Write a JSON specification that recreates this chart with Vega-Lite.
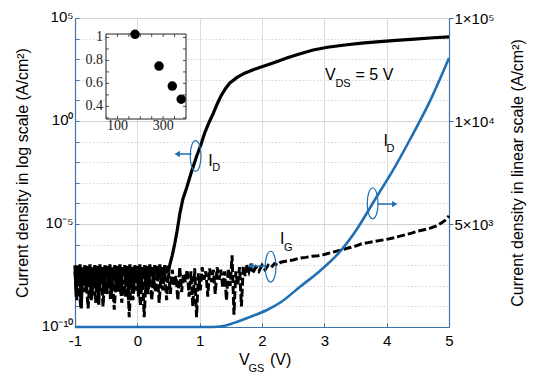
{
  "$schema": "https://vega.github.io/schema/vega-lite/v6.json",
  "width": 374,
  "height": 309,
  "autosize": "none",
  "padding": {"left": 75, "top": 18, "right": 93, "bottom": 57},
  "background": "white",
  "config": {
    "font": "Liberation Sans",
    "view": {"stroke": "#8fb0cc", "strokeWidth": 1},
    "axis": {"labelFont": "Liberation Sans", "titleFont": "Liberation Sans", "labelFontSize": 15, "titleFontSize": 16, "titleFontWeight": "normal", "labelColor": "black", "titleColor": "black", "domainColor": "#3a74a8", "tickColor": "#3a74a8", "domainWidth": 1.2}
  },
  "datasets": {
    "id": [{"v":-1,"j":1e-7},{"v":-0.98,"j":3e-9},{"v":-0.96,"j":9e-8},{"v":-0.94,"j":1.5e-8},{"v":-0.92,"j":1.1e-7},{"v":-0.9,"j":8e-10},{"v":-0.88,"j":8e-8},{"v":-0.86,"j":2e-8},{"v":-0.84,"j":1e-7},{"v":-0.82,"j":5e-9},{"v":-0.8,"j":9e-8},{"v":-0.78,"j":1e-8},{"v":-0.76,"j":1.1e-7},{"v":-0.74,"j":2e-9},{"v":-0.72,"j":8e-8},{"v":-0.7,"j":3e-8},{"v":-0.68,"j":1e-7},{"v":-0.66,"j":6e-9},{"v":-0.64,"j":9e-8},{"v":-0.62,"j":1.2e-9},{"v":-0.6,"j":1.1e-7},{"v":-0.58,"j":1.5e-8},{"v":-0.56,"j":8e-8},{"v":-0.54,"j":4e-9},{"v":-0.52,"j":1e-7},{"v":-0.5,"j":2.5e-8},{"v":-0.48,"j":9e-8},{"v":-0.46,"j":8e-9},{"v":-0.44,"j":1.1e-7},{"v":-0.42,"j":3e-9},{"v":-0.4,"j":8e-8},{"v":-0.38,"j":2e-8},{"v":-0.36,"j":1e-7},{"v":-0.34,"j":7e-9},{"v":-0.32,"j":9e-8},{"v":-0.3,"j":1.2e-8},{"v":-0.28,"j":1.1e-7},{"v":-0.26,"j":4e-9},{"v":-0.24,"j":8e-8},{"v":-0.22,"j":3e-8},{"v":-0.2,"j":1e-7},{"v":-0.18,"j":9e-9},{"v":-0.16,"j":9e-8},{"v":-0.14,"j":2e-9},{"v":-0.12,"j":1.1e-7},{"v":-0.1,"j":1.5e-8},{"v":-0.08,"j":8e-8},{"v":-0.06,"j":5e-9},{"v":-0.04,"j":1e-7},{"v":-0.02,"j":2e-8},{"v":0,"j":9e-8},{"v":0.02,"j":3e-9},{"v":0.04,"j":1.1e-7},{"v":0.06,"j":1e-8},{"v":0.08,"j":8e-8},{"v":0.1,"j":2.5e-8},{"v":0.12,"j":1e-7},{"v":0.14,"j":6e-9},{"v":0.16,"j":9e-8},{"v":0.18,"j":1.5e-8},{"v":0.2,"j":1.1e-7},{"v":0.22,"j":3e-8},{"v":0.24,"j":8e-8},{"v":0.26,"j":1e-8},{"v":0.28,"j":1e-7},{"v":0.3,"j":4e-8},{"v":0.32,"j":9e-8},{"v":0.34,"j":2e-8},{"v":0.36,"j":1.1e-7},{"v":0.38,"j":3e-8},{"v":0.4,"j":8e-8},{"v":0.42,"j":1.5e-8},{"v":0.44,"j":1e-7},{"v":0.46,"j":4e-8},{"v":0.48,"j":9e-8},{"v":0.5,"j":5e-8},{"v":0.52,"j":1e-7},{"v":0.56,"j":3e-7},{"v":0.6,"j":1.1e-6},{"v":0.64,"j":5e-6},{"v":0.68,"j":3e-5},{"v":0.73,"j":1.6e-4},{"v":0.79,"j":5.6e-4},{"v":0.87,"j":3.5e-3},{"v":0.95,"j":1.9e-2},{"v":1.02,"j":7e-2},{"v":1.08,"j":0.26},{"v":1.15,"j":0.85},{"v":1.22,"j":2.4},{"v":1.28,"j":6.5},{"v":1.34,"j":16},{"v":1.41,"j":36},{"v":1.48,"j":68},{"v":1.6,"j":130},{"v":1.73,"j":215},{"v":1.87,"j":320},{"v":2.01,"j":440},{"v":2.2,"j":700},{"v":2.42,"j":1200},{"v":2.6,"j":1800},{"v":2.82,"j":2800},{"v":3.05,"j":3800},{"v":3.33,"j":4900},{"v":3.6,"j":6000},{"v":3.89,"j":7100},{"v":4.15,"j":8200},{"v":4.45,"j":9500},{"v":4.75,"j":11000},{"v":5,"j":12000}],
    "ig": [{"v":-1,"j":5e-8},{"v":-0.97,"j":2e-9},{"v":-0.94,"j":3e-8},{"v":-0.91,"j":1e-9},{"v":-0.88,"j":4e-8},{"v":-0.85,"j":5e-9},{"v":-0.82,"j":2e-8},{"v":-0.79,"j":8e-10},{"v":-0.76,"j":3e-8},{"v":-0.73,"j":3e-9},{"v":-0.7,"j":5e-8},{"v":-0.67,"j":1.5e-9},{"v":-0.64,"j":2e-8},{"v":-0.61,"j":6e-9},{"v":-0.58,"j":4e-8},{"v":-0.55,"j":1e-9},{"v":-0.52,"j":3e-8},{"v":-0.49,"j":4e-9},{"v":-0.46,"j":5e-8},{"v":-0.43,"j":2e-9},{"v":-0.4,"j":2e-8},{"v":-0.37,"j":7e-10},{"v":-0.34,"j":3e-8},{"v":-0.31,"j":5e-9},{"v":-0.28,"j":4e-8},{"v":-0.25,"j":1.5e-9},{"v":-0.22,"j":2e-8},{"v":-0.19,"j":3e-9},{"v":-0.16,"j":5e-8},{"v":-0.13,"j":3e-10},{"v":-0.1,"j":3e-8},{"v":-0.07,"j":2e-9},{"v":-0.04,"j":4e-8},{"v":-0.01,"j":6e-9},{"v":0.02,"j":2e-8},{"v":0.05,"j":1e-9},{"v":0.08,"j":5e-8},{"v":0.11,"j":3e-10},{"v":0.14,"j":3e-8},{"v":0.17,"j":4e-9},{"v":0.2,"j":4e-8},{"v":0.23,"j":2e-9},{"v":0.26,"j":2e-8},{"v":0.29,"j":5e-9},{"v":0.32,"j":5e-8},{"v":0.35,"j":1.5e-9},{"v":0.38,"j":3e-8},{"v":0.41,"j":6e-9},{"v":0.44,"j":4e-8},{"v":0.47,"j":2e-9},{"v":0.5,"j":5e-8},{"v":0.53,"j":4e-9},{"v":0.56,"j":6e-8},{"v":0.59,"j":1e-8},{"v":0.62,"j":3e-8},{"v":0.65,"j":2e-9},{"v":0.68,"j":8e-8},{"v":0.71,"j":5e-9},{"v":0.74,"j":4e-8},{"v":0.77,"j":1.5e-8},{"v":0.8,"j":6e-8},{"v":0.83,"j":3e-9},{"v":0.86,"j":5e-8},{"v":0.89,"j":1e-9},{"v":0.92,"j":7e-8},{"v":0.95,"j":3e-10},{"v":0.98,"j":4e-8},{"v":1.01,"j":6e-9},{"v":1.04,"j":8e-8},{"v":1.07,"j":2e-8},{"v":1.1,"j":5e-8},{"v":1.13,"j":3e-9},{"v":1.16,"j":7e-8},{"v":1.19,"j":1.5e-8},{"v":1.22,"j":6e-8},{"v":1.25,"j":4e-9},{"v":1.28,"j":8e-8},{"v":1.31,"j":2e-8},{"v":1.34,"j":6e-8},{"v":1.37,"j":8e-9},{"v":1.4,"j":5e-8},{"v":1.43,"j":2e-9},{"v":1.46,"j":7e-8},{"v":1.49,"j":1e-8},{"v":1.52,"j":3e-7},{"v":1.55,"j":4e-10},{"v":1.58,"j":5e-8},{"v":1.61,"j":1e-8},{"v":1.64,"j":8e-8},{"v":1.67,"j":1e-9},{"v":1.7,"j":9e-8},{"v":1.73,"j":3e-8},{"v":1.76,"j":1e-7},{"v":1.79,"j":5e-8},{"v":1.82,"j":1.2e-7},{"v":1.85,"j":4e-8},{"v":1.9,"j":8e-8},{"v":1.95,"j":5e-8},{"v":2,"j":1e-7},{"v":2.05,"j":6e-8},{"v":2.1,"j":1e-7},{"v":2.15,"j":8e-8},{"v":2.2,"j":1.2e-7},{"v":2.25,"j":1e-7},{"v":2.3,"j":1.4e-7},{"v":2.4,"j":1.6e-7},{"v":2.5,"j":1.8e-7},{"v":2.6,"j":2.2e-7},{"v":2.7,"j":2.4e-7},{"v":2.8,"j":2.7e-7},{"v":2.9,"j":2.9e-7},{"v":3,"j":3.3e-7},{"v":3.1,"j":4e-7},{"v":3.2,"j":4.8e-7},{"v":3.3,"j":5.8e-7},{"v":3.4,"j":7e-7},{"v":3.5,"j":8.5e-7},{"v":3.6,"j":1.1e-6},{"v":3.7,"j":1.25e-6},{"v":3.8,"j":1.4e-6},{"v":3.9,"j":1.6e-6},{"v":4,"j":1.8e-6},{"v":4.1,"j":2.1e-6},{"v":4.2,"j":2.5e-6},{"v":4.3,"j":3e-6},{"v":4.4,"j":3.6e-6},{"v":4.5,"j":4.5e-6},{"v":4.6,"j":5.3e-6},{"v":4.7,"j":6.3e-6},{"v":4.8,"j":8e-6},{"v":4.85,"j":1e-5},{"v":4.9,"j":1.25e-5},{"v":4.95,"j":1.6e-5},{"v":5,"j":2.5e-5}],
    "idlin": [{"v":-1,"lin":0},{"v":1.2,"lin":0},{"v":1.4,"lin":60},{"v":1.55,"lin":200},{"v":1.8,"lin":480},{"v":2.08,"lin":825},{"v":2.3,"lin":1200},{"v":2.61,"lin":1956},{"v":2.9,"lin":2650},{"v":3.25,"lin":3655},{"v":3.5,"lin":4650},{"v":3.84,"lin":6325},{"v":4.1,"lin":7600},{"v":4.37,"lin":9078},{"v":4.7,"lin":11000},{"v":5,"lin":13058}],
    "inset": [{"x":177,"y":1.027},{"x":282,"y":0.751},{"x":340,"y":0.577},{"x":379,"y":0.462}]
  },
  "layer": [
    {
      "layer": [
        {
          "data": {"name": "ig"},
          "mark": {"type": "line", "color": "black", "strokeWidth": 3, "strokeDash": [8, 3]},
          "encoding": {
            "x": {"field": "v", "type": "quantitative", "scale": {"domain": [-1, 5], "nice": false},
              "axis": {"values": [-1, 0, 1, 2, 3, 4, 5], "labelExpr": "'' + datum.value", "title": null, "grid": true, "gridColor": "#dcdcdc", "tickSize": -4, "labelPadding": 10, "labelFlush": false, "labelOverlap": false}},
            "y": {"field": "j", "type": "quantitative", "scale": {"type": "log", "domain": [1e-10, 100000], "nice": false},
              "axis": {"values": [1e-10, 1e-9, 1e-8, 1e-7, 1e-6, 1e-5, 1e-4, 1e-3, 1e-2, 1e-1, 1, 10, 100, 1000, 10000, 100000],
                "labelExpr": "round(log(datum.value)/LN10)==5 ? '10⁵' : round(log(datum.value)/LN10)==0 ? '10⁰' : round(log(datum.value)/LN10)==-5 ? '10⁻⁵' : round(log(datum.value)/LN10)==-10 ? '10⁻¹⁰' : ''",
                "labelOverlap": false, "labelFlush": false,
                "title": "Current density in log scale (A/cm²)", "titleAngle": 270, "titleX": -53, "titleY": 154.5, "titleAlign": "center", "titleBaseline": "middle",
                "grid": true, "gridColor": "#d4d4d4",
                "gridDash": {"condition": {"test": "round(log(datum.value)/LN10) % 5 == 0", "value": []}, "value": [1.5, 2]},
                "tickSize": -4, "labelPadding": 6, "labelOffset": -2}}
          }
        },
        {
          "data": {"name": "id"},
          "mark": {"type": "line", "color": "black", "strokeWidth": 3.2},
          "encoding": {
            "x": {"field": "v", "type": "quantitative"},
            "y": {"field": "j", "type": "quantitative", "scale": {"type": "log"}}
          }
        },
        {
          "data": {"values": [{"v": 0.935, "j": 0.02}, {"v": 2.138, "j": 8.5e-8}, {"v": 3.775, "j": 1e-4}]},
          "mark": {"type": "point", "shape": "M0,-1A0.35,1,0,1,1,0,1A0.35,1,0,1,1,0,-1Z", "size": 950, "filled": false, "stroke": "#1f6fb2", "strokeWidth": 1.2, "opacity": 1},
          "encoding": {
            "x": {"field": "v", "type": "quantitative"},
            "y": {"field": "j", "type": "quantitative", "scale": {"type": "log"}}
          }
        },
        {
          "data": {"values": [{"v": 0.62, "v2": 0.87, "j": 0.025}, {"v": 1.8, "v2": 2.07, "j": 9e-8}, {"v": 3.86, "v2": 4.15, "j": 9.3e-5}]},
          "mark": {"type": "rule", "color": "#1f6fb2", "strokeWidth": 1.5},
          "encoding": {
            "x": {"field": "v", "type": "quantitative"},
            "x2": {"field": "v2"},
            "y": {"field": "j", "type": "quantitative", "scale": {"type": "log"}}
          }
        },
        {
          "data": {"values": [{"v": 0.64, "j": 0.025}, {"v": 1.82, "j": 9e-8}]},
          "mark": {"type": "point", "shape": "triangle-left", "size": 40, "filled": true, "color": "#1f6fb2", "opacity": 1},
          "encoding": {
            "x": {"field": "v", "type": "quantitative"},
            "y": {"field": "j", "type": "quantitative", "scale": {"type": "log"}}
          }
        },
        {
          "data": {"values": [{"v": 4.13, "j": 9.3e-5}]},
          "mark": {"type": "point", "shape": "triangle-right", "size": 40, "filled": true, "color": "#1f6fb2", "opacity": 1},
          "encoding": {
            "x": {"field": "v", "type": "quantitative"},
            "y": {"field": "j", "type": "quantitative", "scale": {"type": "log"}}
          }
        },
        {
          "data": {"values": [{"v": 1.172, "j": 0.0115, "t": "I"}, {"v": 2.323, "j": 1.8e-6, "t": "I"}, {"v": 3.986, "j": 0.11, "t": "I"}, {"v": 3.098, "j": 171, "t": "V"}, {"v": 1.715, "j": 2.5e-12, "t": "V"}, {"v": 2.3, "j": 2.5e-12, "t": "(V)"}]},
          "mark": {"type": "text", "fontSize": 16, "baseline": "middle", "align": "center", "color": "black"},
          "encoding": {
            "x": {"field": "v", "type": "quantitative"},
            "y": {"field": "j", "type": "quantitative", "scale": {"type": "log"}},
            "text": {"field": "t"}
          }
        },
        {
          "data": {"values": [{"v": 3.5, "j": 171, "t": "= 5 V"}]},
          "mark": {"type": "text", "fontSize": 16, "baseline": "middle", "align": "left", "color": "black"},
          "encoding": {
            "x": {"field": "v", "type": "quantitative"},
            "y": {"field": "j", "type": "quantitative", "scale": {"type": "log"}},
            "text": {"field": "t"}
          }
        },
        {
          "data": {"values": [{"v": 1.265, "j": 0.005, "t": "D"}, {"v": 2.42, "j": 6.8e-7, "t": "G"}, {"v": 4.061, "j": 0.042, "t": "D"}, {"v": 3.3, "j": 66, "t": "DS"}, {"v": 1.91, "j": 8.9e-13, "t": "GS"}]},
          "mark": {"type": "text", "fontSize": 11, "baseline": "middle", "align": "center", "color": "black"},
          "encoding": {
            "x": {"field": "v", "type": "quantitative"},
            "y": {"field": "j", "type": "quantitative", "scale": {"type": "log"}},
            "text": {"field": "t"}
          }
        }
      ]
    },
    {
      "data": {"name": "idlin"},
      "mark": {"type": "line", "color": "#1f6fb2", "strokeWidth": 2.6, "interpolate": "monotone"},
      "encoding": {
        "x": {"field": "v", "type": "quantitative", "scale": {"domain": [-1, 5], "nice": false}, "axis": null},
        "y": {"field": "lin", "type": "quantitative", "scale": {"domain": [0, 15000], "nice": false, "zero": false},
          "axis": {"orient": "right", "values": [5000, 10000, 15000],
            "labelExpr": "datum.value==5000 ? '5×10³' : datum.value==10000 ? '1×10⁴' : '1×10⁵'",
            "labelOverlap": false, "labelFlush": false,
            "title": "Current density in linear scale (A/cm²)", "titleAngle": 270, "titleX": 68, "titleY": 154.5, "titleAlign": "center", "titleBaseline": "middle",
            "grid": false, "tickSize": 4, "labelPadding": 1}}
      }
    },
    {
      "layer": [
        {
          "data": {"values": [{"x": 50, "x2": 400, "y": 0.29, "y2": 1.03}]},
          "mark": {"type": "rect", "fill": "white", "stroke": "#222222", "strokeWidth": 1},
          "encoding": {
            "x": {"field": "x", "type": "quantitative", "scale": {"domain": [-85.6, 1550.6], "nice": false, "zero": false}, "axis": null},
            "x2": {"field": "x2"},
            "y": {"field": "y", "type": "quantitative", "scale": {"domain": [-1.5203, 1.1693], "nice": false, "zero": false}, "axis": null},
            "y2": {"field": "y2"}
          }
        },
        {
          "data": {"values": [
            {"x":100,"x2":100,"y":0.29,"y2":0.316},{"x":150,"x2":150,"y":0.29,"y2":0.316},{"x":200,"x2":200,"y":0.29,"y2":0.316},{"x":250,"x2":250,"y":0.29,"y2":0.316},{"x":300,"x2":300,"y":0.29,"y2":0.316},{"x":350,"x2":350,"y":0.29,"y2":0.316},
            {"x":100,"x2":100,"y":1.004,"y2":1.03},{"x":150,"x2":150,"y":1.004,"y2":1.03},{"x":200,"x2":200,"y":1.004,"y2":1.03},{"x":250,"x2":250,"y":1.004,"y2":1.03},{"x":300,"x2":300,"y":1.004,"y2":1.03},{"x":350,"x2":350,"y":1.004,"y2":1.03},
            {"x":50,"x2":63,"y":0.3,"y2":0.3},{"x":50,"x2":63,"y":0.4,"y2":0.4},{"x":50,"x2":63,"y":0.5,"y2":0.5},{"x":50,"x2":63,"y":0.6,"y2":0.6},{"x":50,"x2":63,"y":0.7,"y2":0.7},{"x":50,"x2":63,"y":0.8,"y2":0.8},{"x":50,"x2":63,"y":0.9,"y2":0.9},{"x":50,"x2":63,"y":1.0,"y2":1.0},
            {"x":387,"x2":400,"y":0.3,"y2":0.3},{"x":387,"x2":400,"y":0.4,"y2":0.4},{"x":387,"x2":400,"y":0.5,"y2":0.5},{"x":387,"x2":400,"y":0.6,"y2":0.6},{"x":387,"x2":400,"y":0.7,"y2":0.7},{"x":387,"x2":400,"y":0.8,"y2":0.8},{"x":387,"x2":400,"y":0.9,"y2":0.9},{"x":387,"x2":400,"y":1.0,"y2":1.0}
          ]},
          "mark": {"type": "rule", "color": "#222222", "strokeWidth": 0.8},
          "encoding": {
            "x": {"field": "x", "type": "quantitative", "axis": null},
            "x2": {"field": "x2"},
            "y": {"field": "y", "type": "quantitative", "axis": null},
            "y2": {"field": "y2"}
          }
        },
        {
          "data": {"name": "inset"},
          "mark": {"type": "circle", "color": "black", "opacity": 1, "size": 90},
          "encoding": {
            "x": {"field": "x", "type": "quantitative", "axis": null},
            "y": {"field": "y", "type": "quantitative", "axis": null}
          }
        },
        {
          "data": {"values": [{"x": 37, "y": 1.0, "t": "1"}, {"x": 37, "y": 0.8, "t": "0.8"}, {"x": 37, "y": 0.6, "t": "0.6"}, {"x": 37, "y": 0.4, "t": "0.4"}]},
          "mark": {"type": "text", "font": "Liberation Serif", "fontSize": 14, "align": "right", "baseline": "middle", "color": "#222222"},
          "encoding": {
            "x": {"field": "x", "type": "quantitative", "axis": null},
            "y": {"field": "y", "type": "quantitative", "axis": null},
            "text": {"field": "t"}
          }
        },
        {
          "data": {"values": [{"x": 100, "y": 0.225, "t": "100"}, {"x": 300, "y": 0.225, "t": "300"}]},
          "mark": {"type": "text", "font": "Liberation Serif", "fontSize": 14, "align": "center", "baseline": "middle", "color": "#222222"},
          "encoding": {
            "x": {"field": "x", "type": "quantitative", "axis": null},
            "y": {"field": "y", "type": "quantitative", "axis": null},
            "text": {"field": "t"}
          }
        }
      ]
    }
  ],
  "resolve": {"scale": {"x": "independent", "y": "independent"}}
}
